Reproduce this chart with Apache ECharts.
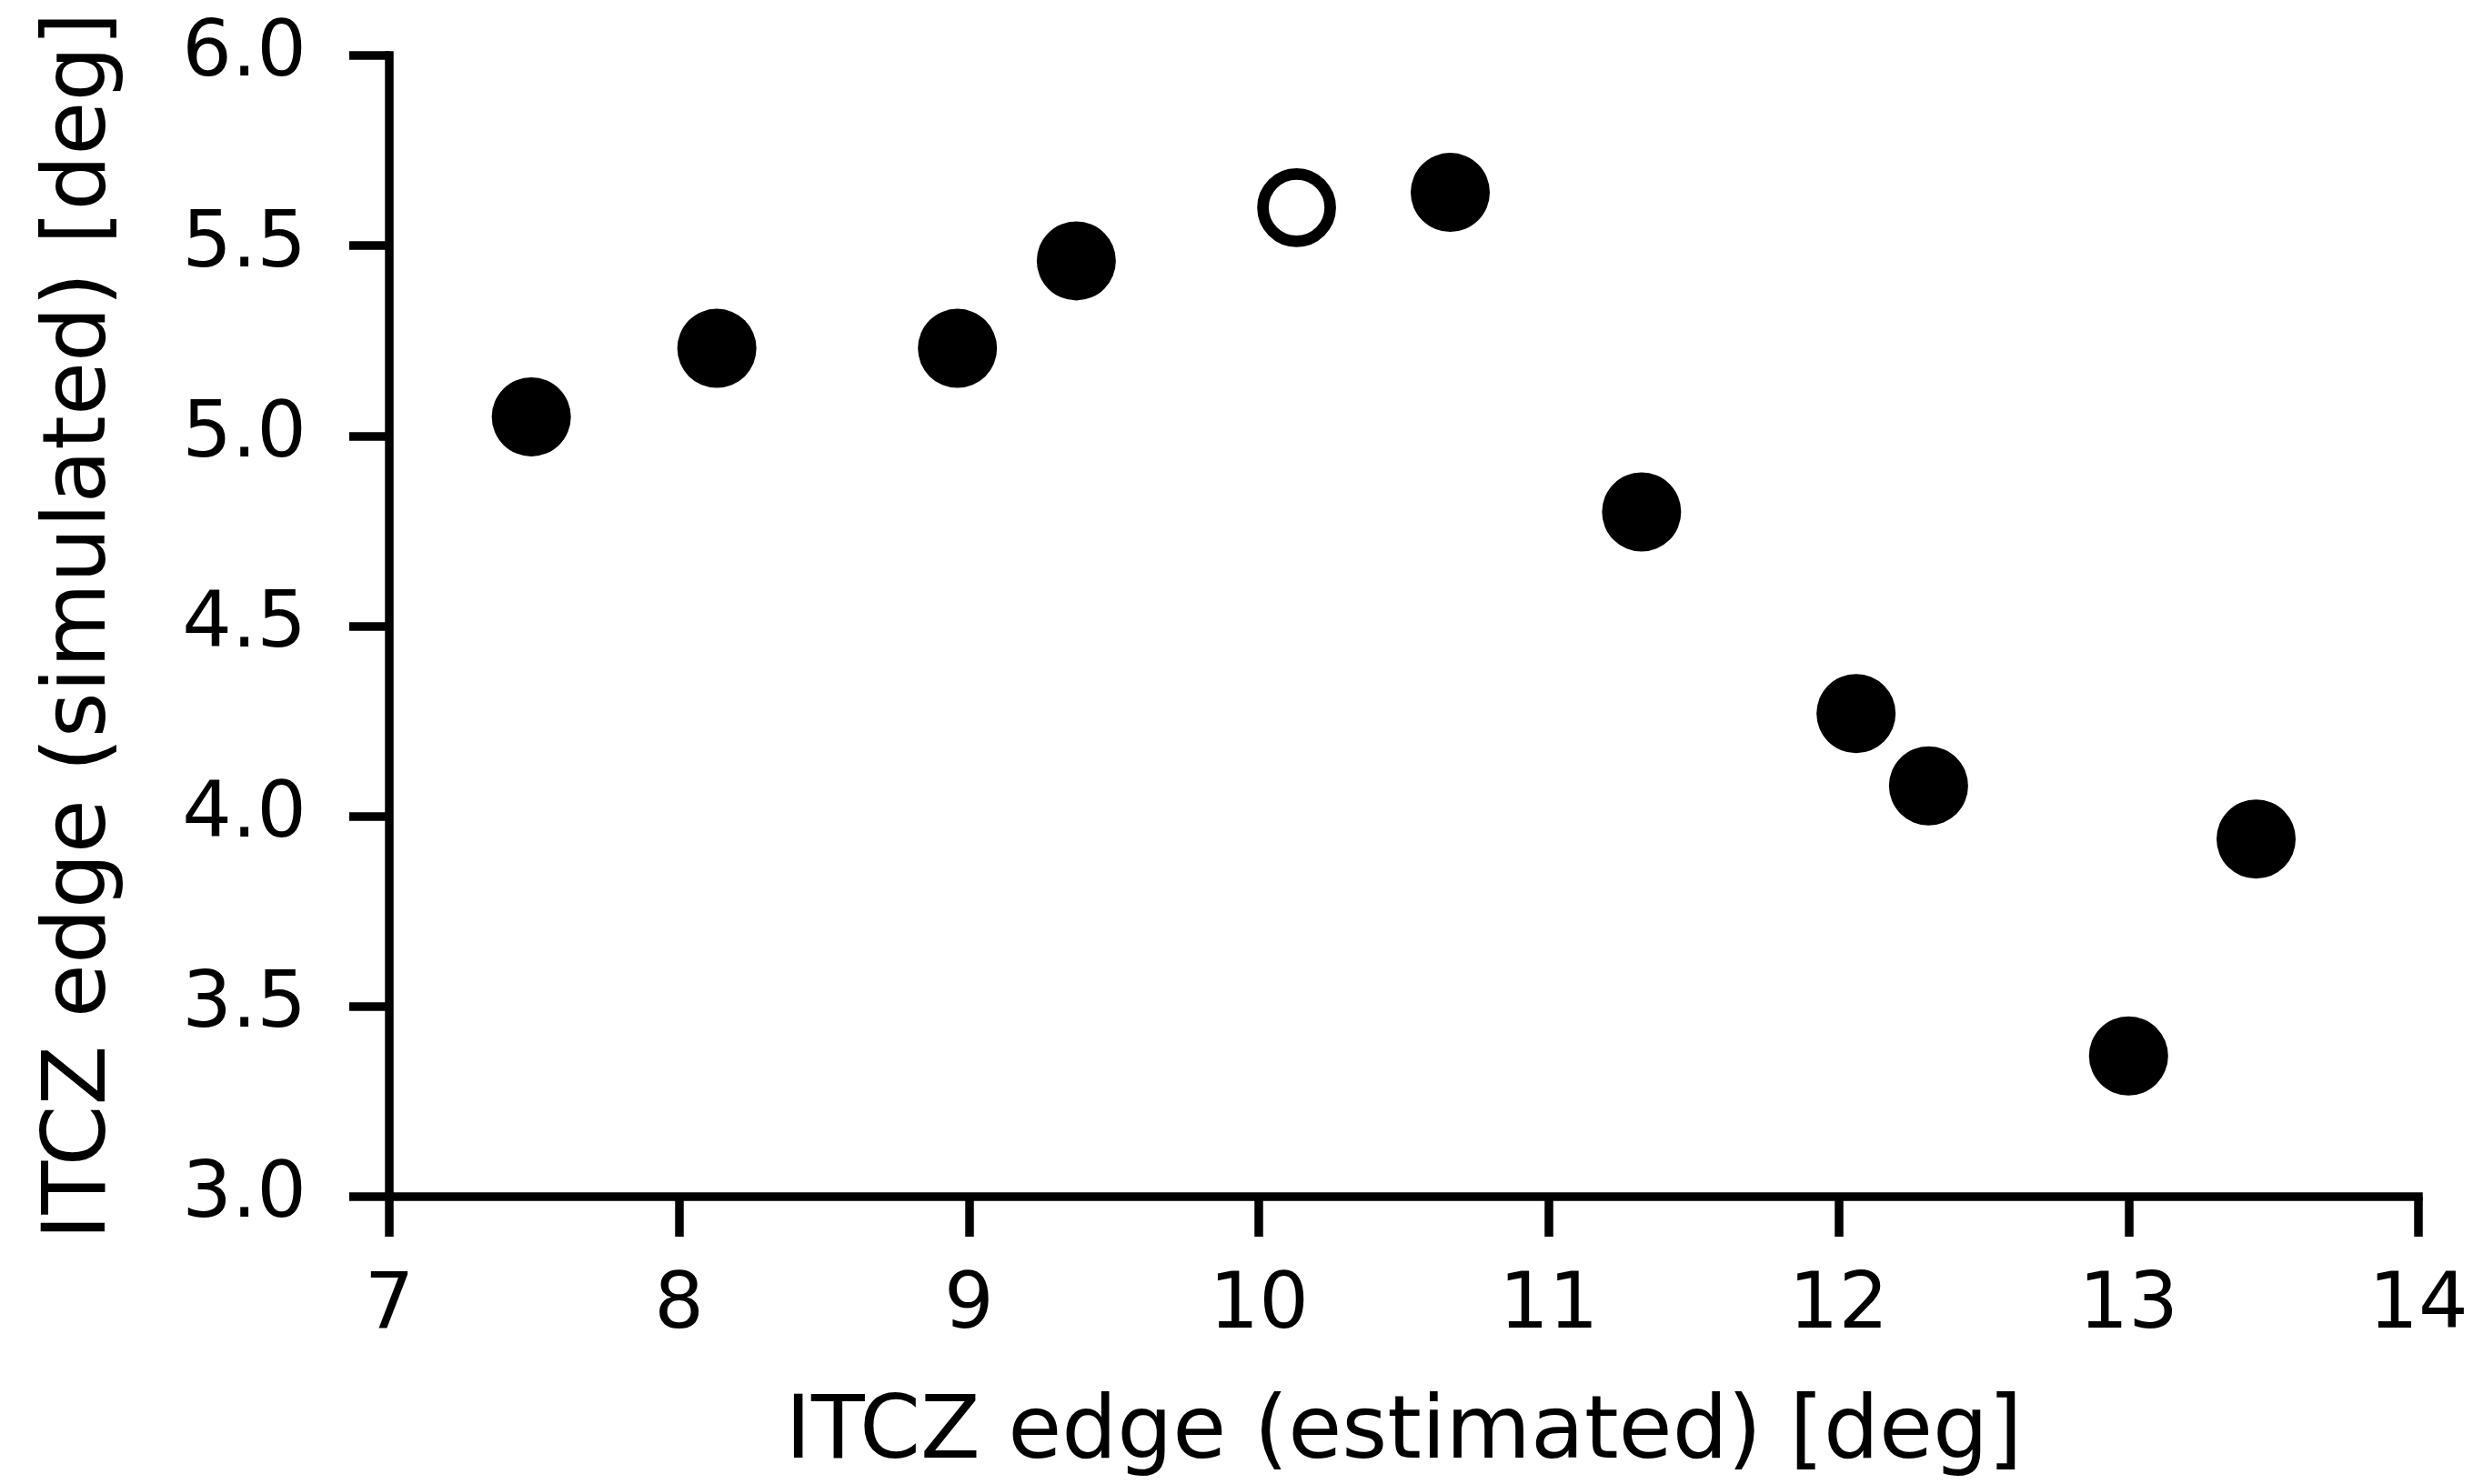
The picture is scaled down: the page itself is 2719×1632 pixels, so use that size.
<!DOCTYPE html>
<html>
<head>
<meta charset="utf-8">
<script src="https://cdn.jsdelivr.net/npm/echarts@6/dist/echarts.min.js"></script>
<style>
html,body{margin:0;padding:0;background:#fff;}
#chart{width:2719px;height:1632px;}
</style>
</head>
<body>
<div id="chart"></div>
<script>
// Data
const filledX = [7.49, 8.13, 8.96, 9.37, 10.66, 11.32, 12.06, 12.31, 13.00, 13.44];
const filledY = [5.05, 5.23, 5.23, 5.46, 5.64, 4.80, 4.27, 4.08, 3.37, 3.94];
const openX = [10.13];
const openY = [5.60];
const xTicks = [7, 8, 9, 10, 11, 12, 13, 14];
const yTicks = [3.0, 3.5, 4.0, 4.5, 5.0, 5.5, 6.0];
const xTitle = 'ITCZ edge (estimated) [deg]';
const yTitle = 'ITCZ edge (simulated) [deg]';

const font = 'DejaVu Sans';
const chart = echarts.init(document.getElementById('chart'), null, {renderer: 'canvas'});

const axisCommon = {
  axisLine: {show: true, onZero: false, lineStyle: {color: '#000', width: 9.5, cap: 'square'}},
  axisTick: {show: true, length: 44, lineStyle: {color: '#000', width: 9.5}},
  splitLine: {show: false},
  nameLocation: 'middle',
  nameTextStyle: {fontFamily: font, fontSize: 96, color: '#000'}
};

chart.setOption({
  animation: false,
  backgroundColor: '#fff',
  grid: {left: 428, right: 60, top: 61, bottom: 316, containLabel: false},
  xAxis: Object.assign({}, axisCommon, {
    type: 'value',
    min: xTicks[0], max: xTicks[xTicks.length - 1], interval: 1,
    name: xTitle,
    nameGap: 214,
    axisLabel: {fontFamily: font, fontSize: 86, color: '#000', margin: 79,
      formatter: v => String(v)}
  }),
  yAxis: Object.assign({}, axisCommon, {
    type: 'value',
    min: yTicks[0], max: yTicks[yTicks.length - 1], interval: 0.5,
    name: yTitle,
    nameGap: 290,
    axisLabel: {fontFamily: font, fontSize: 86, color: '#000', margin: 91,
      formatter: v => v.toFixed(1)}
  }),
  series: [
    {
      type: 'scatter',
      symbol: 'circle',
      symbolSize: 87,
      itemStyle: {color: '#000', opacity: 1},
      data: filledX.map((x, i) => [x, filledY[i]])
    },
    {
      type: 'scatter',
      symbol: 'circle',
      symbolSize: 74,
      itemStyle: {color: '#fff', borderColor: '#000', borderWidth: 12.7, opacity: 1},
      data: openX.map((x, i) => [x, openY[i]])
    }
  ]
});
</script>
</body>
</html>
